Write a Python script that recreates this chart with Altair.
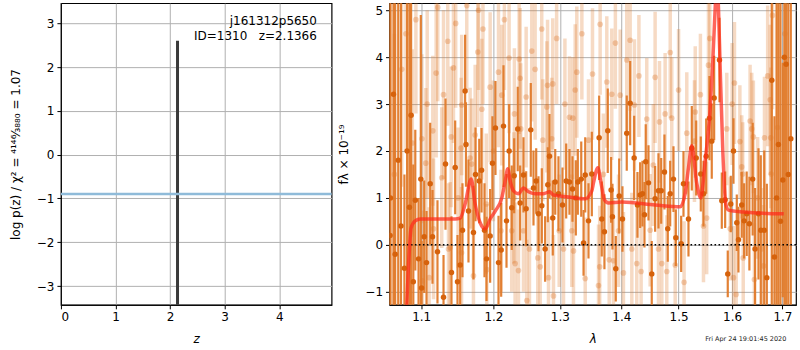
import altair as alt
import pandas as pd

# ---------------- left panel: redshift fit ----------------
z_best = [2.1366]
logp_peak = [2.6]
chi2_level = [-0.9]
label_lines = ["j161312p5650", "ID=1310\u00a0\u00a0\u00a0z=2.1366"]
label_z = [4.69, 4.69]
label_y = [3.05, 2.71]

# ---------------- right panel: spectrum ----------------
dark_wave = [1.0595, 1.0600, 1.0639, 1.0660, 1.0700, 1.0735, 1.0780, 1.0815, 1.0845, 1.0867,
             1.0896, 1.0922, 1.0965, 1.0995, 1.1005, 1.1040, 1.1071,
             1.1120, 1.1151, 1.1218, 1.1300, 1.1327, 1.1409, 1.1460, 1.1492, 1.1529, 1.1561,
             1.1598, 1.1610, 1.1645, 1.1715, 1.1744, 1.1797, 1.1830, 1.1872, 1.1901, 1.1953,
             1.1986, 1.2030, 1.2074, 1.2113, 1.2147, 1.2191, 1.2230, 1.2268, 1.2304, 1.2357,
             1.2393, 1.2443, 1.2483, 1.2553, 1.2594, 1.2635, 1.2670, 1.2721, 1.2772, 1.2813,
             1.2839, 1.2890, 1.2928, 1.2979, 1.3042, 1.3100, 1.3152, 1.3200, 1.3253, 1.3285,
             1.3340, 1.3377, 1.3404, 1.3457, 1.3511, 1.3631, 1.3674, 1.3718, 1.3773, 1.3829,
             1.3851, 1.3907, 1.3964, 1.4019, 1.4092, 1.4150, 1.4218, 1.4275, 1.4321, 1.4361,
             1.4396, 1.4418, 1.4466, 1.4523, 1.4582, 1.4641, 1.4689, 1.4747, 1.4806, 1.4849,
             1.4908, 1.4950, 1.5047, 1.5089, 1.5180, 1.5241, 1.5322, 1.5407, 1.5457, 1.5507,
             1.5569, 1.5612, 1.5657, 1.5758, 1.5802, 1.5866, 1.5916, 1.5974, 1.6026, 1.6090,
             1.6122, 1.6186, 1.6233, 1.6283, 1.6336, 1.6401, 1.6448, 1.6516, 1.6562, 1.6631,
             1.6683, 1.6783, 1.6837, 1.6880, 1.6918, 1.6960, 1.7007, 1.7040, 1.7076, 1.7120,
             1.7172]
dark_flux = [0.20, 1.00, 3.21, -0.20, 1.80, 0.40, -0.50, 2.00, 0.80, 2.76,
             -0.79, 0.95, -0.30, 1.40, -0.92, 0.17, -0.38,
             1.30, 0.17, -0.15, -1.12, 1.72, -0.59, 1.65, -0.79, -0.43, 0.31,
             3.28, 2.14, 0.72, 0.26, 1.50, 1.36, 1.59, 0.31, -0.30, 0.19,
             1.74, 2.49, -0.38, -0.11, 2.53, 0.51, 2.00, 0.79, 1.47, 2.47,
             0.89, 1.49, 0.77, 2.45, 1.21, 1.36, 0.66, 0.83, -0.09, 1.28,
             1.89, 0.57, 1.34, 1.09, 0.85, 1.36, 1.34, 1.19, 1.00, 1.34,
             1.40, 0.04, 1.49, 0.51, 1.51, 2.28, 0.55, 0.28, 2.43, 1.17,
             0.60, -0.51, 1.04, 0.55, 2.38, 3.02, 1.85, 0.85, 1.06, 1.09,
             0.64, 1.77, 1.32, -0.62, 0.98, 1.15, 1.15, 1.55, 0.34, 1.09,
             1.40, 0.15, 0.02, 1.30, 0.55, 2.06, 1.85, 1.51, 1.09, 1.89,
             2.70, 2.21, 3.13, 3.94, 0.94, 0.96, -0.62, 0.87, 2.00, 0.47,
             0.11, 0.85, 0.51, 0.66, 0.45, 1.40, -0.09, 0.66, 0.31, 0.31,
             -0.70, 3.51, -0.26, 1.00, 2.14, 0.50, 1.38, 4.00, 3.85, 1.50,
             2.26]
dark_err = [6.0, 6.0, 6.0, 6.0, 6.0, 6.0, 2.0, 6.0, 6.0, 6.0,
            2.5, 1.5, 1.3, 3.5, 1.0, 1.2, 1.1,
            1.3, 1.0, 1.1, 0.9, 1.4, 1.2, 1.0, 1.0, 1.0, 1.0,
            1.2, 0.9, 1.1, 1.0, 1.0, 0.9, 0.9, 1.0, 0.9, 1.0,
            1.0, 1.0, 1.0, 1.0, 1.3, 1.0, 1.0, 0.9, 0.8, 0.9,
            0.8, 0.8, 0.8, 1.0, 0.8, 0.7, 0.8, 0.8, 0.7, 0.8,
            0.9, 0.8, 0.7, 0.8, 0.8, 0.8, 0.7, 0.7, 0.8, 0.7,
            0.8, 0.7, 0.8, 0.8, 0.9, 0.9, 0.8, 0.8, 0.9, 0.7,
            0.7, 0.7, 0.8, 0.7, 0.8, 0.9, 0.9, 0.7, 0.7, 0.7,
            0.7, 0.8, 0.8, 0.7, 0.7, 0.8, 0.7, 0.8, 0.7, 0.7,
            0.7, 0.6, 0.6, 0.7, 0.8, 0.9, 0.8, 0.8, 0.7, 0.8,
            0.9, 0.8, 0.9, 0.9, 0.6, 0.6, 0.5, 0.6, 0.7, 0.6,
            0.7, 0.7, 0.8, 0.9, 1.0, 1.2, 1.3, 1.4, 1.6, 1.7,
            2.0, 5.0, 3.0, 6.0, 5.0, 6.0, 2.5, 6.0, 6.0, 6.0,
            6.0]

light_wave = [1.0745, 1.0883, 1.1009, 1.1061, 1.1155, 1.1200, 1.1222, 1.1276, 1.1358, 1.1405,
              1.1436, 1.1467, 1.1542, 1.1550, 1.1621, 1.1668, 1.1739, 1.1777, 1.1787, 1.1834,
              1.1897, 1.1953, 1.1905, 1.1715, 1.1368, 1.1106, 1.1015, 1.1165, 1.1391, 1.1691,
              1.1548, 1.2074, 1.2122, 1.2229, 1.2378, 1.2393, 1.2483, 1.2568, 1.2619, 1.2809,
              1.2890, 1.2798, 1.3152, 1.3205, 1.3243, 1.3269, 1.3522, 1.3457, 1.2875, 1.2736,
              1.2402, 1.2308, 1.2318, 1.2368, 1.2659, 1.2696, 1.2824, 1.2493, 1.2901, 1.3404,
              1.3216, 1.2110, 1.2268, 1.2443, 1.2533, 1.3189, 1.3058, 1.2990, 1.3647, 1.3757,
              1.3840, 1.3981, 1.4092, 1.4150, 1.4223, 1.4436, 1.4582, 1.4659, 1.4759, 1.4877,
              1.5149, 1.3640, 1.3620, 1.3797, 1.3868, 1.4036, 1.4263, 1.4338, 1.4495, 1.4641,
              1.4700, 1.4788, 1.4939, 1.4178, 1.3952, 1.5304, 1.5575, 1.5550, 1.6045, 1.6350,
              1.6382, 1.6415, 1.6636, 1.6763, 1.6751, 1.6797, 1.5897, 1.6186, 1.6206, 1.6771,
              1.5517, 1.5457, 1.5963, 1.6215, 1.6026, 1.6078, 1.6435, 1.6617, 1.6582, 1.5290,
              1.0650, 1.0800, 1.0930, 1.1080, 1.1300, 1.1500, 1.1850, 1.2000, 1.2160, 1.2300,
              1.2720, 1.2950, 1.3080, 1.3350, 1.3700, 1.3900, 1.4300, 1.4550, 1.4850, 1.5000,
              1.5100, 1.5400, 1.6000, 1.6150, 1.6500, 1.6700, 1.6900, 1.7050]
light_flux = [3.74, 2.17, 2.26, 1.74, 2.43, 3.66, 5.06, 1.43, 4.34, 2.30,
              3.77, 4.72, 2.06, 2.98, 5.10, 1.85, 2.34, 4.11, 5.00, 2.89,
              0.87, 3.36, -0.53, -0.66, -0.09, -0.70, -0.77, 0.34, -0.06, 1.72,
              -0.17, 3.68, 3.19, 3.98, 3.96, 3.55, 3.15, 4.13, 3.74, 3.40,
              3.43, 2.94, 2.72, 2.70, 3.30, 3.68, 3.64, 2.23, 2.26, 2.23,
              2.47, 2.79, -0.40, -0.55, -0.28, -0.47, -0.70, -1.19, -1.09, -0.72,
              -0.13, 0.30, 0.30, 0.30, -0.09, 0.30, -0.09, 0.30, 4.70, 3.47,
              3.21, 3.19, 3.94, 4.36, 2.98, 2.68, 3.57, 2.62, 2.79, 2.70,
              2.38, -0.47, -0.87, -0.32, -0.34, -0.60, -0.40, -0.57, 0.31, -0.09,
              -0.40, -0.57, -0.43, -0.09, 0.30, 2.83, 4.40, 3.83, 3.45, 2.64,
              2.47, 2.30, 2.28, 2.28, 3.09, 4.89, 2.47, 1.66, 1.51, 1.51,
              0.57, 0.40, 0.34, -0.28, -0.70, -1.06, -0.74, -0.45, -0.09, 2.21,
              1.50, 4.50, 4.80, 3.00, 3.20, 1.00, 4.60, 2.00, 4.80, 1.00,
              4.60, 4.40, 3.00, 4.50, 1.50, 4.30, 3.60, 1.70, 4.10, 3.30,
              -0.80, 3.20, 3.00, 2.20, 1.00, 3.60, 2.50, 4.50]
light_err = [2.5, 2.0, 1.8, 1.6, 1.6, 1.8, 2.0, 1.5, 1.8, 1.5,
             1.6, 1.8, 1.5, 1.5, 1.8, 1.5, 1.5, 1.6, 1.7, 1.5,
             1.5, 1.6, 1.4, 1.4, 1.4, 1.5, 1.5, 1.5, 1.4, 1.4,
             1.4, 1.6, 1.5, 1.6, 1.6, 1.5, 1.5, 1.5, 1.5, 1.4,
             1.4, 1.4, 1.3, 1.3, 1.4, 1.4, 1.4, 1.3, 1.3, 1.3,
             1.4, 1.4, 1.3, 1.3, 1.3, 1.3, 1.3, 1.3, 1.3, 1.3,
             1.2, 1.3, 1.3, 1.3, 1.3, 1.2, 1.2, 1.2, 1.5, 1.4,
             1.4, 1.4, 1.5, 1.5, 1.4, 1.3, 1.4, 1.3, 1.3, 1.3,
             1.3, 1.3, 1.3, 1.3, 1.3, 1.3, 1.3, 1.3, 1.2, 1.2,
             1.2, 1.2, 1.2, 1.2, 1.2, 1.4, 1.5, 1.4, 1.3, 1.2,
             1.2, 1.2, 1.3, 1.5, 1.6, 2.0, 1.2, 1.1, 1.1, 1.5,
             1.2, 1.2, 1.1, 1.1, 1.1, 1.1, 1.2, 1.3, 1.3, 1.3,
             3.0, 2.5, 2.0, 2.0, 1.8, 1.5, 1.6, 1.5, 1.5, 1.4,
             1.5, 1.4, 1.4, 1.4, 1.3, 1.4, 1.3, 1.3, 1.4, 1.3,
             1.3, 1.3, 1.3, 1.2, 1.3, 1.5, 2.5, 3.0]

model_wave = [1.0810, 1.0841, 1.0867, 1.0921, 1.0987, 1.1460, 1.1529, 1.1598, 1.1682, 1.1739,
              1.1810, 1.1882, 1.1953, 1.2026, 1.2122, 1.2172, 1.2210, 1.2245, 1.2294, 1.2368,
              1.2443, 1.2518, 1.2619, 1.2747, 1.2839, 1.2901, 1.3136, 1.3404, 1.3511, 1.3538,
              1.3609, 1.3664, 1.3718, 1.3785, 1.4008, 1.4582, 1.5028, 1.5119, 1.5180, 1.5241,
              1.5331, 1.5407, 1.5488, 1.5569, 1.5631, 1.5676, 1.5705, 1.5739, 1.5771, 1.5821,
              1.5878, 1.5929, 1.6220, 1.7026]
model_flux = [-1.30, -0.20, 0.36, 0.51, 0.55, 0.55, 0.57, 0.87, 1.40, 0.87,
              0.47, 0.34, 0.55, 0.72, 1.00, 1.36, 1.62, 1.36, 1.15, 1.09,
              1.21, 1.13, 1.09, 1.09, 1.13, 1.06, 1.02, 0.98, 1.15, 1.32,
              1.64, 1.30, 0.96, 0.89, 0.91, 0.85, 0.81, 1.09, 1.64, 2.11,
              1.32, 1.00, 1.79, 2.70, 3.91, 5.04, 5.70, 5.04, 3.77, 2.00,
              0.87, 0.74, 0.70, 0.66]

wave_ticks = [1.1, 1.2, 1.3, 1.4, 1.5, 1.6, 1.7]
timestamp = ["Fri Apr 24 19:01:45 2020"]
timestamp_wave = [1.708]
timestamp_flux = [-2.0]

FONT = "DejaVu Sans"
DARK = "#e07a2a"
DOT = "#d6620c"

dark_df = pd.DataFrame({"wave": dark_wave, "flux": dark_flux, "err": dark_err})
light_df = pd.DataFrame({"wave": light_wave, "flux": light_flux, "err": light_err})
model_df = pd.DataFrame({"wave": model_wave, "flux": model_flux})
stamp_df = pd.DataFrame({"wave": timestamp_wave, "flux": timestamp_flux, "t": timestamp})

# ---------- left chart ----------
zscale = alt.Scale(domain=[0, 4.96], nice=False, zero=False)
pscale = alt.Scale(domain=[-3.43, 3.46], nice=False, zero=False)

left_axis_x = alt.Axis(values=[0, 1, 2, 3, 4], title="z", titleFontStyle="italic",
                       titlePadding=11, grid=True, format="d")
left_axis_y = alt.Axis(values=[-3, -2, -1, 0, 1, 2, 3], format="d",
                       title="log p(z) / χ² = ⁴¹⁴⁶⁄₃₈₈₀ = 1.07", titlePadding=14, grid=True)

pz_df = pd.DataFrame({"z": z_best, "lo": [-3.43], "logp": logp_peak})
pz = alt.Chart(pz_df).mark_rule(color="#3a3a3a", strokeWidth=3).encode(
    x=alt.X("z:Q", scale=zscale, axis=left_axis_x),
    y=alt.Y("lo:Q", scale=pscale, axis=left_axis_y),
    y2="logp:Q",
)
chi_line = alt.Chart(pd.DataFrame({"y": chi2_level})).mark_rule(
    color="#8fbbd9", strokeWidth=2.5).encode(y=alt.Y("y:Q", scale=pscale))
lab_df = pd.DataFrame({"z": label_z, "y": label_y, "t": label_lines})
labels = alt.Chart(lab_df).mark_text(align="right", baseline="middle", fontSize=12,
                                     font=FONT, color="black").encode(
    x=alt.X("z:Q", scale=zscale), y=alt.Y("y:Q", scale=pscale), text="t:N")

left = alt.layer(pz, chi_line, labels).properties(width=271, height=302)

# ---------- right chart ----------
wscale = alt.Scale(type="log", domain=[1.0588, 1.728], nice=False, zero=False)
fscale = alt.Scale(domain=[-1.28, 5.15], nice=False, zero=False)
xax = alt.Axis(values=wave_ticks, format=".1f", title="λ", titleFontStyle="italic",
               titlePadding=11, grid=True)
yax = alt.Axis(values=[-1, 0, 1, 2, 3, 4, 5], format="d", title="fλ × 10⁻¹⁹",
               titlePadding=14, grid=True)

light_bars = alt.Chart(light_df).transform_calculate(
    lo="datum.flux - datum.err", hi="datum.flux + datum.err"
).mark_rule(color=DARK, opacity=0.28, strokeWidth=3.5, clip=True).encode(
    x=alt.X("wave:Q", scale=wscale, axis=xax),
    y=alt.Y("lo:Q", scale=fscale, axis=yax), y2="hi:Q")
light_pts = alt.Chart(light_df).mark_circle(color=DOT, opacity=0.28, size=32, clip=True).encode(
    x=alt.X("wave:Q", scale=wscale), y=alt.Y("flux:Q", scale=fscale))
dark_bars = alt.Chart(dark_df).transform_calculate(
    lo="datum.flux - datum.err", hi="datum.flux + datum.err"
).mark_rule(color=DARK, opacity=0.95, strokeWidth=2.2, clip=True).encode(
    x=alt.X("wave:Q", scale=wscale), y=alt.Y("lo:Q", scale=fscale), y2="hi:Q")
dark_pts = alt.Chart(dark_df).mark_circle(color=DOT, opacity=1, size=30, clip=True).encode(
    x=alt.X("wave:Q", scale=wscale), y=alt.Y("flux:Q", scale=fscale))
zero_line = alt.Chart(pd.DataFrame({"y": [0]})).mark_rule(
    color="black", strokeWidth=1.6, strokeDash=[1.6, 2.4]).encode(y=alt.Y("y:Q", scale=fscale))
model = alt.Chart(model_df).mark_line(color="#ff2a1a", opacity=0.72, strokeWidth=3.5,
                                      clip=True, interpolate="monotone").encode(
    x=alt.X("wave:Q", scale=wscale), y=alt.Y("flux:Q", scale=fscale))
stamp = alt.Chart(stamp_df).mark_text(align="right", baseline="middle", fontSize=6.5,
                                      font=FONT, color="#222222").encode(
    x=alt.X("wave:Q", scale=wscale), y=alt.Y("flux:Q", scale=fscale), text="t:N")

right = alt.layer(light_bars, light_pts, dark_bars, dark_pts, zero_line, model, stamp).properties(
    width=407, height=302)

chart = alt.hconcat(left, right, spacing=58, bounds="flush").properties(
    padding={"left": 8, "top": 2, "right": 2, "bottom": 2},
).configure_axis(
    labelFont=FONT, titleFont=FONT, labelFontSize=12, titleFontSize=12,
    labelColor="black", titleColor="black", titleFontWeight="normal",
    tickColor="black", tickSize=4, domainColor="black", domainWidth=1,
    gridColor="#b0b0b0", gridWidth=1, labelPadding=3,
).configure_view(stroke="black", strokeWidth=1.2)

chart.save("out.html", embed_options={"renderer": "svg", "actions": False})
